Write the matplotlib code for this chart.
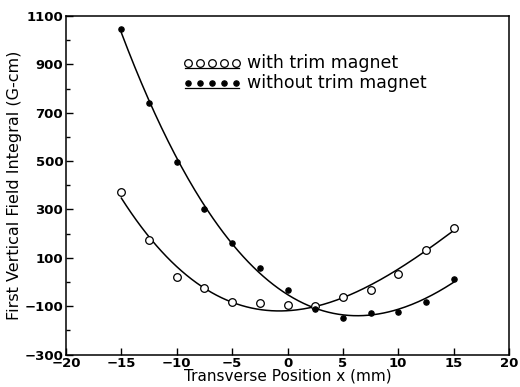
import numpy as np
import matplotlib
matplotlib.use("Agg")
import matplotlib.pyplot as plt
from matplotlib.ticker import MultipleLocator

x_pos = [-15, -12.5, -10, -7.5, -5, -2.5, 0, 2.5, 5, 7.5, 10, 12.5, 15]
with_trim = [372, 175, 21, -27, -82, -86, -97, -99, -64, -34, 32, 134, 225]
without_trim = [1047, 740, 495, 303, 163, 57, -35, -112, -148, -130, -123, -82, 14]
label_with = "with trim magnet"
label_without = "without trim magnet"

plt.rcParams['font.family'] = ['DejaVu Sans']
fig = plt.figure(figsize=(5.2, 3.87), dpi=100)
L, B, R, T = 66, 354.5, 509, 16
ax = fig.add_axes([L / 520, 1 - B / 387, (R - L) / 520, (B - T) / 387])

xs = np.linspace(min(x_pos), max(x_pos), 200)
for ys, ms, fc in [(with_trim, 5.5, 'white'), (without_trim, 3.8, 'black')]:
    c = np.polyfit(x_pos, ys, 3)
    ax.plot(xs, np.polyval(c, xs), color='black', lw=1.1, zorder=2)
    ax.plot(x_pos, ys, ls='none', marker='o', ms=ms, mfc=fc, mec='black', mew=0.9, zorder=3)

ax.set_xlim(-20, 20)
ax.set_ylim(-300, 1100)
ax.xaxis.set_major_locator(MultipleLocator(5))
ax.set_yticks([-300, -100, 100, 300, 500, 700, 900, 1100])
ax.yaxis.set_minor_locator(MultipleLocator(100))
ax.tick_params(which='both', direction='in', top=False, right=False, labelsize=9.5, pad=2)
ax.tick_params(which='major', length=5, width=1)
ax.tick_params(which='minor', length=3, width=1)
for lab in ax.get_xticklabels() + ax.get_yticklabels():
    lab.set_fontweight('bold')
for s in ax.spines.values():
    s.set_linewidth(1.1)

ax.set_xlabel("Transverse Position x (mm)", fontsize=11, labelpad=-1)
ax.set_ylabel("First Vertical Field Integral (G-cm)", fontsize=11.5, labelpad=2)

# manual legend (axes coordinates)
def to_ax(px, py):
    return ((px - L) / (R - L), (B - py) / (B - T))

for row_y, ms, fc, lab in [(63, 5.5, 'white', label_with), (82.5, 3.8, 'black', label_without)]:
    mx = np.linspace(188, 236, 5)
    pts = [to_ax(p, row_y) for p in mx]
    ax.plot([p[0] for p in pts], [p[1] for p in pts], ls='none', marker='o', ms=ms,
            mfc=fc, mec='black', mew=0.9, transform=ax.transAxes, clip_on=False)
    a0 = to_ax(185, row_y + 5)
    a1 = to_ax(239, row_y + 5)
    ax.plot([a0[0], a1[0]], [a0[1], a1[1]], color='black', lw=0.9, transform=ax.transAxes)
    t = to_ax(247, row_y)
    ax.text(t[0], t[1], lab, transform=ax.transAxes, fontsize=12.5, va='center', ha='left')

fig.savefig("out.png", dpi=100)
